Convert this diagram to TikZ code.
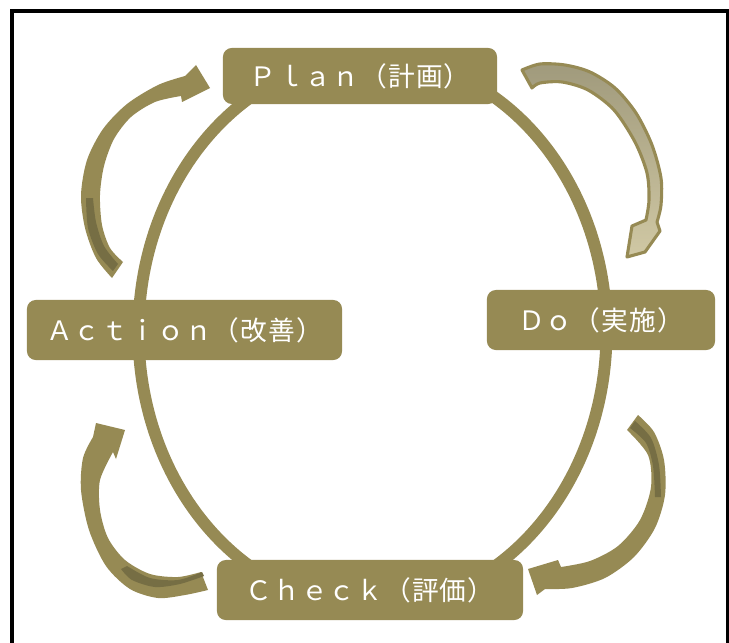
\documentclass[tikz,border=0pt]{standalone}
\usepackage{fontspec}
\usepackage{xcolor}
\usepackage{tikz}
\usetikzlibrary{positioning}

\newfontfamily\jpfont[LetterSpace=4]{Noto Sans CJK JP}

\definecolor{oliva}{RGB}{150,138,84}
\definecolor{olivaosc}{RGB}{118,110,68}
\definecolor{olivagris}{RGB}{160,154,124}
\definecolor{olivaclara}{RGB}{208,200,164}

\tikzset{
    etapa/.style={fill=oliva, rounded corners=0.22cm, text=white, inner sep=0pt,
        font=\jpfont\fontsize{19}{21}\selectfont},
    flecha/.style={fill=oliva},
    tira/.style={fill=olivaosc}
}

\begin{document}
\begin{tikzpicture}[x=0.025cm,y=-0.025cm]
        % Ciclo PDCA (medidas en pixeles)
        \useasboundingbox (0,0) rectangle (729,643);
        \clip (0,0) rectangle (729,643);
        \draw[line width=2.6pt] (12,11) rectangle (728,720);

        \coordinate (centro) at (372.5,332);
        \draw[oliva, line width=8.5pt] (centro) ellipse [x radius=234, y radius=275];

        \node[etapa, minimum width=6.85cm, minimum height=1.4cm] (plan) at (360,76) {Ｐｌａｎ（計画）};
        \node[etapa, minimum width=5.7cm, minimum height=1.5cm] (do) at (601,320) {Ｄｏ（実施）};
        \node[etapa, minimum width=7.65cm, minimum height=1.5cm] (check) at (370,590) {Ｃｈｅｃｋ（評価）};
        \node[etapa, minimum width=7.875cm, minimum height=1.5cm] (action) at (184.5,330) {Ａｃｔｉｏｎ（改善）};

        % Action -> Plan
        \fill[flecha] plot[smooth] coordinates {(112,278) (96,258) (85,228) (81,195) (87,160) (103,129) (127,104) (158,85) (185,76)}
            -- (196,65) -- (210,88) -- (182,102)
            -- plot[smooth] coordinates {(181,96) (155,102) (131,117) (114,139) (104,166) (100,195) (102,225) (110,248) (123,262)} -- cycle;
        \fill[tira] plot[smooth] coordinates {(86,198) (88,228) (98,254) (113,271)}
            -- plot[smooth] coordinates {(118,264) (104,246) (96,222) (93,198)} -- cycle;

        % Plan -> Do
        \draw[draw=oliva, line width=2.2pt, line join=round, top color=olivagris, bottom color=olivaclara]
            plot[smooth] coordinates {(522,70) (540,64) (565,65) (590,72) (615,88) (636,113) (652,145) (661,178) (661,205) (657,222)}
            -- (660,231) -- (645,252) -- (627,257) -- (632,226)
            -- plot[smooth] coordinates {(646,220) (649,200) (647,173) (635,142) (614,110) (588,90) (562,82) (540,83) (532,88)} -- cycle;

        % Do -> Check
        \fill[flecha] plot[smooth] coordinates {(638,415) (654,432) (664,460) (665,495) (655,528) (634,557) (605,578) (572,588) (545,589)}
            -- (537,595) -- (528,569) -- (558,560)
            -- plot[smooth] coordinates {(561,567) (590,561) (618,546) (640,520) (651,487) (648,455) (627,430)} -- cycle;
        \fill[tira] plot[smooth] coordinates {(635,421) (651,438) (659,465) (661,497)}
            -- plot[smooth] coordinates {(655,497) (653,466) (646,443) (630,428)} -- cycle;

        % Check -> Action
        \fill[flecha] plot[smooth] coordinates {(208,590) (185,595) (158,598) (130,589) (106,566) (89,530) (81,490) (83,458) (93,437)}
            -- (96,423) -- (125,430) -- (116,459)
            -- plot[smooth] coordinates {(113,452) (100,480) (100,510) (108,538) (125,560) (150,574) (178,577) (201,572)} -- cycle;
        \fill[tira] plot[smooth] coordinates {(204,576) (180,584) (155,587) (132,580) (121,569)}
            -- plot[smooth] coordinates {(127,566) (150,578) (178,580) (202,572)} -- cycle;
    \end{tikzpicture}
\end{document}
